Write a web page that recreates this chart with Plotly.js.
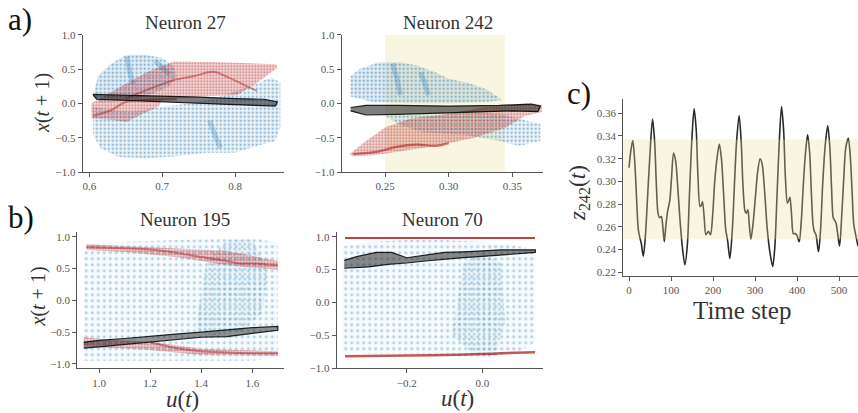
<!DOCTYPE html>
<html><head><meta charset="utf-8">
<script src="https://cdn.plot.ly/plotly-3.0.1.min.js"></script>
<style>html,body{margin:0;padding:0;background:#fff}#chart{width:858px;height:413px}</style>
</head><body><div id="chart"></div>
<script>
// ---------- Panel titles / labels ----------
const panelTitles = ["Neuron 27", "Neuron 242", "Neuron 195", "Neuron 70"];
const panelLetters = ["a)", "b)", "c)"];

// ---------- Neuron 27 regions (u(t), x(t+1)) ----------
const n27BlueAX = [0.605,0.612,0.63,0.65,0.675,0.70,0.715,0.72,0.71,0.69,0.67,0.64,0.615];
const n27BlueAY = [0.10,0.40,0.58,0.70,0.71,0.66,0.55,0.40,0.25,0.15,0.08,0.03,0.02];
const n27BlueBX = [0.605,0.605,0.615,0.64,0.68,0.72,0.76,0.80,0.83,0.855,0.862,0.862,0.85,0.82,0.78,0.74,0.70,0.66,0.62];
const n27BlueBY = [-0.05,-0.45,-0.65,-0.78,-0.80,-0.77,-0.72,-0.72,-0.62,-0.55,-0.35,0.30,0.38,0.25,0.10,0.0,-0.05,-0.12,-0.08];
const n27BlueStreakAX = [0.652,0.655,0.66];
const n27BlueStreakAY = [0.68,0.48,0.28];
const n27BlueStreakBX = [0.69,0.70,0.71];
const n27BlueStreakBY = [0.62,0.52,0.42];
const n27BlueStreakCX = [0.765,0.772,0.78];
const n27BlueStreakCY = [-0.25,-0.45,-0.65];
const n27RedX = [0.603,0.603,0.636,0.68,0.716,0.78,0.856,0.858,0.83,0.803,0.75,0.70,0.695,0.678,0.651,0.63];
const n27RedY = [-0.22,0.0,0.20,0.46,0.61,0.60,0.57,0.52,0.30,0.12,0.10,0.05,-0.05,-0.13,-0.27,-0.24];
const n27RedStreakAX = [0.605,0.63,0.65,0.68,0.72];
const n27RedStreakAY = [-0.18,-0.10,0.02,0.05,0.06];
const n27RedStreakBX = [0.65,0.68,0.716,0.745,0.77,0.79,0.81,0.83];
const n27RedStreakBY = [0.07,0.20,0.34,0.40,0.46,0.38,0.28,0.18];
const n27BlackX = [0.605,0.65,0.70,0.75,0.80,0.84,0.858,0.855,0.80,0.75,0.70,0.65,0.61,0.605];
const n27BlackY = [0.13,0.12,0.10,0.09,0.07,0.06,0.02,-0.04,-0.02,0.0,0.02,0.05,0.06,0.13];

// ---------- Neuron 242 ----------
const n242BlueAX = [0.223,0.23,0.245,0.262,0.275,0.29,0.30,0.315,0.33,0.342,0.33,0.30,0.27,0.24,0.223];
const n242BlueAY = [0.40,0.50,0.60,0.60,0.55,0.45,0.36,0.30,0.20,0.05,0.02,0.0,0.0,0.02,0.10];
const n242BlueBX = [0.25,0.28,0.31,0.34,0.36,0.372,0.372,0.355,0.34,0.31,0.28,0.26];
const n242BlueBY = [-0.18,-0.15,-0.12,-0.15,-0.25,-0.30,-0.55,-0.62,-0.55,-0.45,-0.42,-0.30];
const n242BlueStreakAX = [0.256,0.259,0.262];
const n242BlueStreakAY = [0.58,0.38,0.12];
const n242BlueStreakBX = [0.278,0.281,0.284];
const n242BlueStreakBY = [0.45,0.30,0.12];
const n242RedX = [0.222,0.235,0.25,0.27,0.30,0.33,0.36,0.373,0.373,0.36,0.345,0.32,0.29,0.26,0.24,0.225];
const n242RedY = [-0.74,-0.55,-0.35,-0.22,-0.15,-0.05,0.0,-0.02,-0.13,-0.18,-0.35,-0.50,-0.62,-0.70,-0.76,-0.77];
const n242RedStreakX = [0.225,0.245,0.26,0.275,0.29,0.30];
const n242RedStreakY = [-0.74,-0.70,-0.63,-0.60,-0.62,-0.58];
const n242BlackX = [0.223,0.235,0.26,0.30,0.34,0.365,0.372,0.37,0.35,0.32,0.29,0.26,0.235,0.223];
const n242BlackY = [-0.06,-0.03,-0.03,-0.04,-0.03,-0.01,-0.04,-0.12,-0.11,-0.13,-0.15,-0.16,-0.17,-0.11];

// ---------- Neuron 195 ----------
const n195BlueX = [0.94,0.94,0.98,1.1,1.3,1.5,1.62,1.70,1.70,1.6,1.4,1.2,1.0];
const n195BlueY = [-0.95,0.75,0.90,0.92,0.95,0.97,0.97,0.9,-0.9,-0.95,-0.95,-0.95,-0.95];
const n195BlueDenseX = [1.38,1.42,1.5,1.6,1.66,1.64,1.55,1.45,1.38];
const n195BlueDenseY = [-0.4,0.6,0.95,0.95,0.5,-0.2,-0.5,-0.55,-0.5];
const n195RedUpX = [0.95,1.0,1.1,1.2,1.3,1.4,1.5,1.6,1.7,1.7,1.6,1.5,1.4,1.3,1.2,1.1,1.0,0.95];
const n195RedUpY = [0.88,0.87,0.86,0.84,0.82,0.80,0.78,0.70,0.62,0.48,0.52,0.55,0.62,0.68,0.72,0.76,0.78,0.80];
const n195RedUpStreakX = [0.95,1.1,1.2,1.3,1.4,1.5,1.55,1.6,1.7];
const n195RedUpStreakY = [0.84,0.82,0.80,0.75,0.68,0.62,0.58,0.58,0.55];
const n195RedLoX = [0.94,1.05,1.2,1.3,1.4,1.55,1.7,1.7,1.55,1.4,1.3,1.2,1.05,0.94];
const n195RedLoY = [-0.58,-0.62,-0.65,-0.70,-0.76,-0.78,-0.80,-0.87,-0.87,-0.86,-0.82,-0.78,-0.75,-0.72];
const n195RedLoStreakX = [1.2,1.3,1.4,1.5,1.6,1.7];
const n195RedLoStreakY = [-0.66,-0.75,-0.80,-0.82,-0.83,-0.83];
const n195BlackX = [0.94,1.0,1.1,1.2,1.3,1.4,1.5,1.6,1.7,1.7,1.6,1.5,1.4,1.3,1.2,1.1,1.0,0.94];
const n195BlackY = [-0.66,-0.63,-0.60,-0.56,-0.53,-0.50,-0.46,-0.43,-0.41,-0.47,-0.52,-0.57,-0.58,-0.62,-0.66,-0.70,-0.73,-0.75];

// ---------- Neuron 70 ----------
const n70BlueX = [-0.37,-0.37,-0.3,-0.2,-0.1,0.0,0.1,0.14,0.14,0.1,0.0,-0.1,-0.2,-0.3];
const n70BlueY = [-0.75,0.85,0.92,0.95,0.95,0.92,0.85,0.8,-0.6,-0.75,-0.85,-0.82,-0.78,-0.78];
const n70BlueDenseX = [-0.08,-0.05,0.0,0.05,0.06,0.03,-0.02,-0.06];
const n70BlueDenseY = [-0.5,0.6,0.75,0.6,-0.3,-0.85,-0.8,-0.6];
const n70RedTopX = [-0.363,0.139];
const n70RedTopY = [0.98,0.98];
const n70RedBotX = [-0.363,-0.2,-0.1,0.0,0.05,0.139];
const n70RedBotY = [-0.82,-0.81,-0.80,-0.785,-0.775,-0.76];
const n70BlackX = [-0.365,-0.33,-0.28,-0.24,-0.2,-0.15,-0.1,-0.05,0.0,0.05,0.10,0.14,0.14,0.1,0.05,0.0,-0.05,-0.1,-0.15,-0.2,-0.25,-0.3,-0.365];
const n70BlackY = [0.64,0.70,0.76,0.76,0.68,0.72,0.76,0.77,0.79,0.80,0.80,0.80,0.76,0.74,0.72,0.70,0.68,0.66,0.63,0.60,0.58,0.54,0.52];

// ---------- Panel c time series ----------
const timeStep = [0,4,9,14,18,22,26,29,34,39,
  44,50,56,61,65,69,73,77,80,84,
  88,92,97,101,106,111,116,121,127,133,
  139,144,150,155,160,164,169,172,175,179,
  183,189,194,199,204,210,215,220,225,230,
  235,240,246,251,256,262,267,271,276,279,
  283,286,290,295,301,306,312,317,323,329,
  336,342,347,352,357,363,368,372,377,380,
  383,387,391,395,399,405,410,415,420,425,
  430,434,438,441,445,451,456,461,467,473,
  478,482,486,489,493,501,506,511,516,522,
  527,531,535,540,545];
const z242 = [0.312,0.326,0.336,0.315,0.285,0.258,0.250,0.246,0.234,0.252,
  0.285,0.325,0.355,0.335,0.298,0.272,0.268,0.269,0.262,0.247,
  0.262,0.274,0.283,0.302,0.325,0.318,0.295,0.268,0.242,0.2265,
  0.245,0.290,0.340,0.364,0.345,0.305,0.278,0.279,0.282,0.268,
  0.253,0.256,0.253,0.270,0.300,0.322,0.333,0.320,0.290,0.258,
  0.247,0.232,0.258,0.298,0.335,0.358,0.335,0.298,0.274,0.272,
  0.275,0.263,0.249,0.262,0.287,0.308,0.320,0.315,0.290,0.258,
  0.236,0.225,0.242,0.285,0.330,0.366,0.345,0.305,0.281,0.283,
  0.286,0.270,0.254,0.254,0.253,0.247,0.265,0.298,0.325,0.341,
  0.325,0.290,0.262,0.256,0.253,0.238,0.258,0.298,0.332,0.349,
  0.330,0.295,0.268,0.266,0.263,0.243,0.268,0.302,0.330,0.338,
  0.320,0.290,0.262,0.252,0.243];
const bandLow = 0.249, bandHigh = 0.337;        // highlighted range of z242
const n242BandX = [0.25, 0.344];               // same range on Neuron 242 axis

// ---------- styles ----------
const SERIF = '"Liberation Serif"';
const BLUE = 'rgba(31,119,180,0.45)';
const RED = 'rgba(178,24,24,0.55)';
function cloud(xs, ys, ax, fg, bg, size, solid) {
  return {x: xs, y: ys, xaxis: 'x'+ax, yaxis: 'y'+ax, type: 'scatter', mode: 'lines',
    fill: 'toself', line: {width: 0, color: 'rgba(0,0,0,0)'}, hoverinfo: 'skip',
    fillcolor: bg,
    fillpattern: {shape: '.', size: size, solidity: solid, fgcolor: fg, bgcolor: bg}};
}
function streak(xs, ys, ax, color, w) {
  return {x: xs, y: ys, xaxis: 'x'+ax, yaxis: 'y'+ax, type: 'scatter', mode: 'lines',
    line: {width: w, color: color, shape: 'spline'}, hoverinfo: 'skip'};
}
function band(xs, ys, ax, fill, edge) {
  return {x: xs, y: ys, xaxis: 'x'+ax, yaxis: 'y'+ax, type: 'scatter', mode: 'lines',
    fill: 'toself', fillcolor: fill, line: {width: 1.2, color: edge}, hoverinfo: 'skip'};
}
const blueBg = 'rgba(31,119,180,0.08)', blueBgDense = 'rgba(31,119,180,0.12)';
const blueStreak = 'rgba(31,119,180,0.28)';
const redBg = 'rgba(178,24,24,0.14)';
const blackFill = 'rgba(20,20,20,0.55)', blackEdge = 'rgba(0,0,0,0.85)';

const traces = [
  // Neuron 27
  cloud(n27BlueAX, n27BlueAY, '', BLUE, blueBgDense, 4, 0.3),
  cloud(n27BlueBX, n27BlueBY, '', BLUE, blueBg, 4, 0.3),
  streak(n27BlueStreakAX, n27BlueStreakAY, '', blueStreak, 5),
  streak(n27BlueStreakBX, n27BlueStreakBY, '', blueStreak, 5),
  streak(n27BlueStreakCX, n27BlueStreakCY, '', blueStreak, 5),
  cloud(n27RedX, n27RedY, '', RED, redBg, 3, 0.35),
  streak(n27RedStreakAX, n27RedStreakAY, '', 'rgba(170,20,20,0.45)', 2),
  streak(n27RedStreakBX, n27RedStreakBY, '', 'rgba(170,20,20,0.45)', 1.8),
  band(n27BlackX, n27BlackY, '', blackFill, blackEdge),
  // Neuron 242
  cloud(n242BlueAX, n242BlueAY, '2', BLUE, blueBgDense, 4, 0.3),
  cloud(n242BlueBX, n242BlueBY, '2', BLUE, blueBg, 4, 0.3),
  streak(n242BlueStreakAX, n242BlueStreakAY, '2', blueStreak, 5),
  streak(n242BlueStreakBX, n242BlueStreakBY, '2', blueStreak, 5),
  cloud(n242RedX, n242RedY, '2', RED, redBg, 3, 0.35),
  streak(n242RedStreakX, n242RedStreakY, '2', 'rgba(170,20,20,0.55)', 2.2),
  band(n242BlackX, n242BlackY, '2', blackFill, blackEdge),
  // Neuron 195
  cloud(n195BlueX, n195BlueY, '3', 'rgba(31,119,180,0.35)', 'rgba(31,119,180,0.03)', 6, 0.2),
  cloud(n195BlueDenseX, n195BlueDenseY, '3', 'rgba(31,119,180,0.3)', 'rgba(31,119,180,0.03)', 5, 0.25),
  cloud(n195RedUpX, n195RedUpY, '3', RED, redBg, 3, 0.35),
  streak(n195RedUpStreakX, n195RedUpStreakY, '3', 'rgba(170,20,20,0.45)', 2),
  cloud(n195RedLoX, n195RedLoY, '3', RED, redBg, 3, 0.35),
  streak(n195RedLoStreakX, n195RedLoStreakY, '3', 'rgba(170,20,20,0.45)', 2),
  band(n195BlackX, n195BlackY, '3', 'rgba(20,20,20,0.45)', blackEdge),
  // Neuron 70
  cloud(n70BlueX, n70BlueY, '4', 'rgba(31,119,180,0.35)', 'rgba(31,119,180,0.03)', 6, 0.2),
  cloud(n70BlueDenseX, n70BlueDenseY, '4', 'rgba(31,119,180,0.3)', 'rgba(31,119,180,0.03)', 5, 0.25),
  streak(n70RedTopX, n70RedTopY, '4', 'rgba(170,20,20,0.8)', 1.8),
  streak(n70RedBotX, n70RedBotY, '4', 'rgba(170,20,20,0.7)', 2.5),
  band(n70BlackX, n70BlackY, '4', 'rgba(20,20,20,0.5)', blackEdge),
  // Panel c
  {x: timeStep, y: z242, xaxis: 'x5', yaxis: 'y5', type: 'scatter', mode: 'lines',
   line: {color: '#2a2a2a', width: 1.6, shape: 'spline', smoothing: 0.8}, hoverinfo: 'skip'}
];

const tickFont = {family: SERIF, size: 11, color: '#555'};
function axis(domain, range, extra) {
  return Object.assign({domain: domain, range: range, showgrid: false, zeroline: false,
    showline: true, linecolor: '#555', linewidth: 1, ticks: 'outside', ticklen: 4,
    tickcolor: '#555', tickwidth: 1, tickfont: tickFont, mirror: false, fixedrange: true}, extra);
}
const yTicks = {tickvals: [-1, -0.5, 0, 0.5, 1], tickformat: '.1f'};
const W = 858, H = 413;
const px = v => v / W, py = v => 1 - v / H;

const layout = {
  width: W, height: H, margin: {l: 0, r: 0, t: 0, b: 0},
  paper_bgcolor: '#fff', plot_bgcolor: 'rgba(0,0,0,0)', showlegend: false,
  font: {family: SERIF, color: '#222'},
  xaxis: axis([px(82.7), px(284)], [0.591, 0.867], {tickvals: [0.6, 0.7, 0.8], tickformat: '.1f', anchor: 'y'}),
  yaxis: axis([py(172), py(34.7)], [-1, 1], Object.assign({anchor: 'x'}, yTicks)),
  xaxis2: axis([px(341.7), px(543)], [0.216, 0.374], {tickvals: [0.25, 0.30, 0.35], tickformat: '.2f', anchor: 'y2'}),
  yaxis2: axis([py(172), py(34.7)], [-1, 1], Object.assign({anchor: 'x2'}, yTicks)),
  xaxis3: axis([px(77.3), px(284)], [0.915, 1.724], {tickvals: [1.0, 1.2, 1.4, 1.6], tickformat: '.1f', anchor: 'y3'}),
  yaxis3: axis([py(368.3), py(231.7)], [-1.068, 1.079], Object.assign({anchor: 'x3'}, yTicks)),
  xaxis4: axis([px(336.7), px(543.3)], [-0.385, 0.161], {tickvals: [-0.2, 0.0], tickformat: '.1f', anchor: 'y4'}),
  yaxis4: axis([py(368.3), py(231.7)], [-1.003, 1.076], Object.assign({anchor: 'x4'}, yTicks)),
  xaxis5: axis([px(623.3), 1], [-13.6, 545], {tickvals: [0, 100, 200, 300, 400, 500], anchor: 'y5'}),
  yaxis5: axis([py(276), py(99.3)], [0.2167, 0.3723], {tickvals: [0.22, 0.24, 0.26, 0.28, 0.30, 0.32, 0.34, 0.36], tickformat: '.2f', anchor: 'x5'}),
  shapes: [
    {type: 'rect', xref: 'x2', yref: 'y2', x0: n242BandX[0], x1: n242BandX[1], y0: -1, y1: 1,
     fillcolor: 'rgb(248,245,224)', line: {width: 0}, layer: 'below'},
    {type: 'rect', xref: 'x5 domain', yref: 'y5', x0: 0, x1: 1, y0: bandLow, y1: bandHigh,
     fillcolor: 'rgb(232,222,152)', opacity: 0.3, line: {width: 0}, layer: 'above'}
  ],
  annotations: []
};

function ann(text, x, y, size, color, extra) {
  layout.annotations.push(Object.assign({text: text, x: px(x), y: py(y), xref: 'paper', yref: 'paper',
    xanchor: 'center', yanchor: 'middle', showarrow: false,
    font: {family: SERIF, size: size, color: color}}, extra || {}));
}
ann(panelLetters[0], 20, 20, 31, '#111');
ann(panelLetters[1], 21, 217, 31, '#111');
ann(panelLetters[2], 579, 93, 31, '#111');
ann(panelTitles[0], 185, 22, 19, '#333');
ann(panelTitles[1], 448, 22, 19, '#333');
ann(panelTitles[2], 185, 219, 19, '#333');
ann(panelTitles[3], 442, 219, 19, '#333');
ann('<i>x</i>(<i>t</i> + 1)', 42.5, 103.5, 20, '#333', {textangle: -90});
ann('<i>x</i>(<i>t</i> + 1)', 37.5, 297, 20, '#333', {textangle: -90});
ann('<i>u</i>(<i>t</i>)', 182.5, 399, 23, '#333');
ann('<i>u</i>(<i>t</i>)', 457, 398, 23, '#333');
ann('<i>z</i><sub>242</sub>(<i>t</i>)', 579, 193, 23, '#333', {textangle: -90});
ann('Time step', 742, 310, 25, '#333');

Plotly.newPlot('chart', traces, layout, {staticPlot: true, displayModeBar: false});
</script></body></html>
